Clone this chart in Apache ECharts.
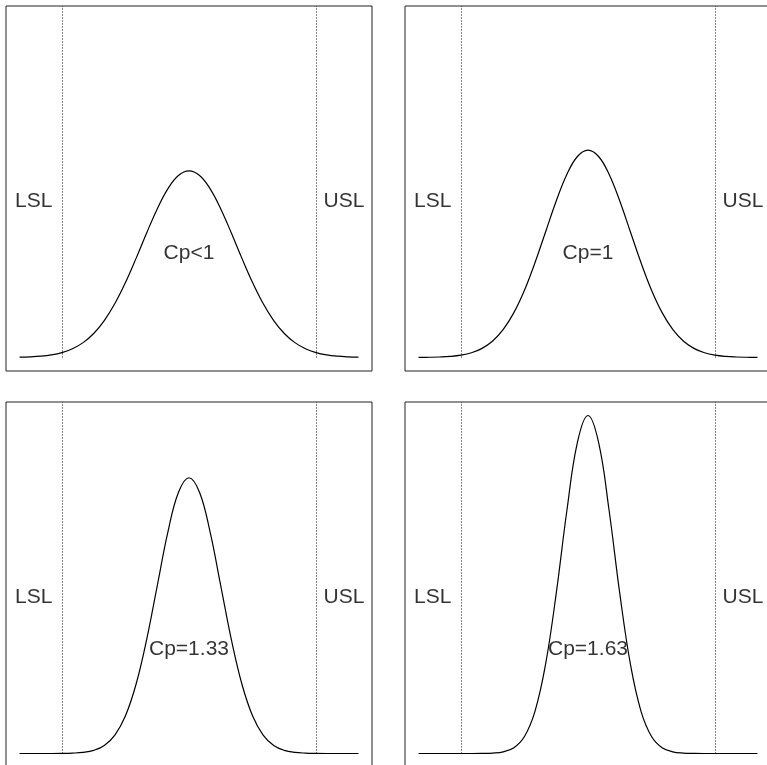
<!DOCTYPE html>
<html>
<head>
<meta charset="utf-8">
<script src="https://cdn.jsdelivr.net/npm/echarts@6/dist/echarts.min.js"></script>
<style>
  html, body { margin: 0; padding: 0; background: #fff; }
  #chart { width: 767px; height: 765px; }
</style>
</head>
<body>
<div id="chart"></div>
<script>
// Process position in units of the spec half-width (LSL = -3, USL = 3)
const xGrid = [-4, -3.75, -3.5, -3.25, -3, -2.75, -2.5, -2.25, -2, -1.75, -1.5, -1.25, -1, -0.75, -0.5, -0.25,
  0, 0.25, 0.5, 0.75, 1, 1.25, 1.5, 1.75, 2, 2.25, 2.5, 2.75, 3, 3.25, 3.5, 3.75, 4];

// Normal density of the process output for each capability level
const densCpLow = [0.0006, 0.0012, 0.0025, 0.0050, 0.0094, 0.0168, 0.0286, 0.0462, 0.0711, 0.1039, 0.1443, 0.1907, 0.2395, 0.2859, 0.3245, 0.3501,
  0.3590, 0.3501, 0.3245, 0.2859, 0.2395, 0.1907, 0.1443, 0.1039, 0.0711, 0.0462, 0.0286, 0.0168, 0.0094, 0.0050, 0.0025, 0.0012, 0.0006];
const densCp1 = [0.0001, 0.0004, 0.0009, 0.0020, 0.0044, 0.0091, 0.0175, 0.0317, 0.0540, 0.0863, 0.1295, 0.1827, 0.2420, 0.3011, 0.3521, 0.3867,
  0.3989, 0.3867, 0.3521, 0.3011, 0.2420, 0.1827, 0.1295, 0.0863, 0.0540, 0.0317, 0.0175, 0.0091, 0.0044, 0.0020, 0.0009, 0.0004, 0.0001];
const densCp133 = [0, 0, 0, 0, 0.0002, 0.0007, 0.0021, 0.0060, 0.0154, 0.0354, 0.0725, 0.1332, 0.2191, 0.3226, 0.4253, 0.5021,
  0.5306, 0.5021, 0.4253, 0.3226, 0.2191, 0.1332, 0.0725, 0.0354, 0.0154, 0.0060, 0.0021, 0.0007, 0.0002, 0, 0, 0, 0];
const densCp163 = [0, 0, 0, 0, 0, 0, 0.0002, 0.0008, 0.0032, 0.0111, 0.0327, 0.0816, 0.1723, 0.3080, 0.4665, 0.5985,
  0.6503, 0.5985, 0.4665, 0.3080, 0.1723, 0.0816, 0.0327, 0.0111, 0.0032, 0.0008, 0.0002, 0, 0, 0, 0, 0, 0];

const panelDensities = [densCpLow, densCp1, densCp133, densCp163];
const panelTitles = ['Cp<1', 'Cp=1', 'Cp=1.33', 'Cp=1.63'];

// Specification limits and their labels
const specLimits = [-3, 3];
const specNames = ['LSL', 'USL'];
const specLabelY = 0.3;
const cpLabelY = 0.2;

// Shared axis ranges (data range plus 4% padding on each side)
const xMin = -4.32, xMax = 4.32;
const yDataMax = 0.6503;
const yPad = 0.04 * yDataMax;
const yMin = -yPad, yMax = yDataMax + yPad;

const FONT = "'Liberation Sans', Arial, Helvetica, sans-serif";

const panelBoxes = [
  { left: 6, top: 6 },
  { left: 405, top: 6 },
  { left: 6, top: 402 },
  { left: 405, top: 402 }
];

const grids = [], xAxes = [], yAxes = [], series = [];

panelBoxes.forEach((box, i) => {
  grids.push({
    left: box.left, top: box.top, width: 366, height: 365,
    outerBoundsMode: 'none',
    containLabel: false,
    show: true, borderColor: '#222', borderWidth: 1, backgroundColor: 'transparent'
  });
  xAxes.push({ type: 'value', gridIndex: i, min: xMin, max: xMax, show: false });
  yAxes.push({ type: 'value', gridIndex: i, min: yMin, max: yMax, show: false });

  // Density curve with dotted spec-limit lines
  series.push({
    type: 'line',
    xAxisIndex: i, yAxisIndex: i,
    data: xGrid.map((x, k) => [x, panelDensities[i][k]]),
    smooth: 0.4,
    showSymbol: false,
    symbol: 'none',
    silent: true,
    clip: false,
    lineStyle: { color: '#000', width: 1.2 },
    markLine: {
      silent: true,
      symbol: ['none', 'none'],
      label: { show: false },
      lineStyle: { color: '#111', width: 1, type: [1, 2] },
      data: specLimits.map(s => [{ coord: [s, 0] }, { coord: [s, yMax] }])
    }
  });

  // LSL / USL labels beside the dotted lines
  series.push({
    type: 'scatter',
    xAxisIndex: i, yAxisIndex: i,
    symbolSize: 1,
    itemStyle: { color: 'rgba(0,0,0,0)' },
    silent: true,
    data: specLimits.map((s, k) => ({
      value: [s, specLabelY],
      label: {
        show: true,
        formatter: specNames[k],
        position: k === 0 ? 'left' : 'right',
        distance: k === 0 ? 9 : 7,
        fontFamily: FONT, fontSize: 21, color: '#000'
      }
    }))
  });

  // Capability caption in the centre of the curve
  series.push({
    type: 'scatter',
    xAxisIndex: i, yAxisIndex: i,
    symbolSize: 1,
    itemStyle: { color: 'rgba(0,0,0,0)' },
    silent: true,
    data: [{
      value: [0, cpLabelY],
      label: {
        show: true,
        formatter: panelTitles[i],
        position: 'inside',
        fontFamily: FONT, fontSize: 21, color: '#000'
      }
    }]
  });
});

const chart = echarts.init(document.getElementById('chart'), null, { renderer: 'canvas' });
chart.setOption({
  animation: false,
  backgroundColor: '#fff',
  grid: grids,
  xAxis: xAxes,
  yAxis: yAxes,
  series: series
});
</script>
</body>
</html>
